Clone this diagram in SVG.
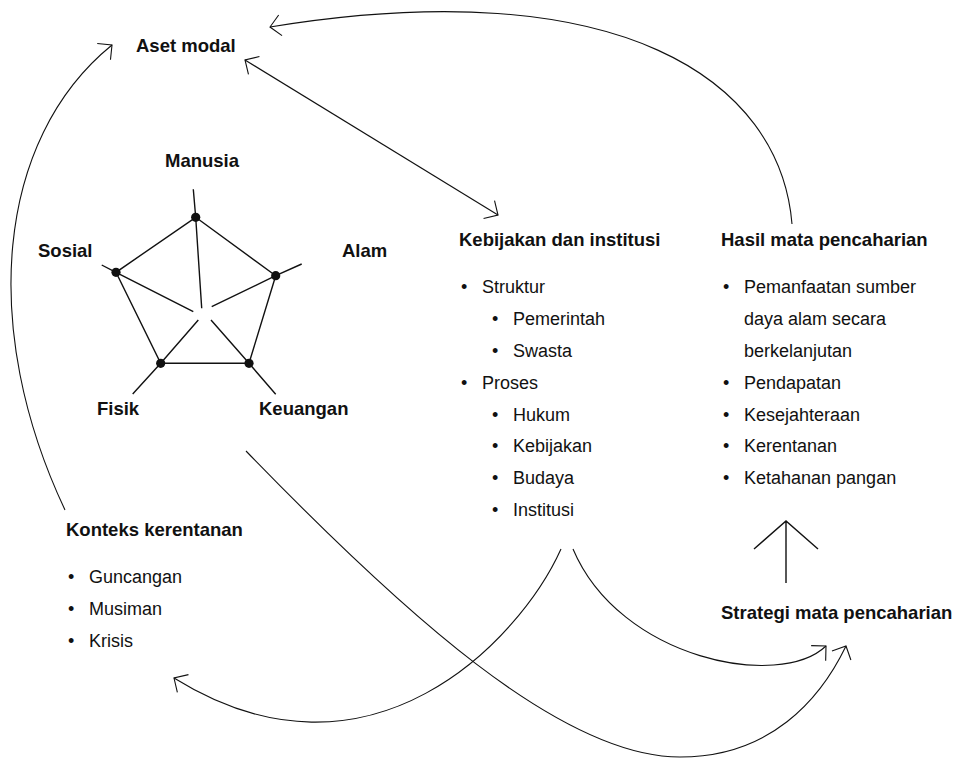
<svg xmlns="http://www.w3.org/2000/svg" width="966" height="758" viewBox="0 0 966 758">
<style>
.h{font-family:"Liberation Sans",Arial,sans-serif;font-weight:bold;font-size:18.5px;fill:#111}
.t{font-family:"Liberation Sans",Arial,sans-serif;font-size:18px;fill:#111}
.c{fill:none;stroke:#111;stroke-width:1.1}
.p{fill:none;stroke:#111;stroke-width:1.4}
.d{fill:#111}
</style>
<defs>
<marker id="arr" viewBox="-12 -12 14 24" refX="0" refY="0" markerWidth="14" markerHeight="24" markerUnits="userSpaceOnUse" orient="auto-start-reverse">
<path d="M-10.5,-10.5 L0,0 L-10.5,10.5" fill="none" stroke="#111" stroke-width="1.1"/>
</marker>
</defs>
<rect width="966" height="758" fill="#fff"/>

<g id="connectors">
<path class="c" d="M792,224 C780,80 620,-30 270,27" marker-end="url(#arr)"/>
<path class="c" d="M65,510 C-20,330 -5,140 112,45" marker-end="url(#arr)"/>
<path class="c" d="M245,60 L498,215" marker-start="url(#arr)" marker-end="url(#arr)"/>
<path class="c" d="M561,549 C520,640 370,800 174,678" marker-end="url(#arr)"/>
<path class="c" d="M573,549 C620,660 780,690 826,646" marker-end="url(#arr)"/>
<path class="c" d="M246,451 C400,610 560,757 680,757 C770,757 820,700 846,646" marker-end="url(#arr)"/>
<path class="p" d="M786,583 V521 M754,549 L786,521 L818,549"/>
</g>

<g id="aset-modal">
<text class="h" x="136" y="52">Aset modal</text>
<g id="pentagon">
<path class="p" d="M195.7,217.3 L275.7,275.7 L249,363.3 L160.7,363.3 L116,272.3 Z"/>
<path class="p" d="M195.7,217.3 L193.3,189.3 M275.7,275.7 L301.7,264 M249,363.3 L275.7,394.3 M160.7,363.3 L132.7,394 M116,272.3 L101.7,265"/>
<path class="p" d="M195.7,217.3 L201.7,308.3 M275.7,275.7 L211.7,306.7 M249,363.3 L211,320 M160.7,363.3 L198.3,320 M116,272.3 L193.3,311.7"/>
<circle class="d" cx="195.7" cy="217.3" r="4.6"/>
<circle class="d" cx="275.7" cy="275.7" r="4.6"/>
<circle class="d" cx="249" cy="363.3" r="4.6"/>
<circle class="d" cx="160.7" cy="363.3" r="4.6"/>
<circle class="d" cx="116" cy="272.3" r="4.6"/>
<text class="h" x="165" y="167">Manusia</text>
<text class="h" x="38" y="257">Sosial</text>
<text class="h" x="342" y="257">Alam</text>
<text class="h" x="97" y="415">Fisik</text>
<text class="h" x="259" y="415">Keuangan</text>
</g>
</g>

<g id="kebijakan">
<text class="h" x="459" y="246">Kebijakan dan institusi</text>
<text class="t" x="461" y="293">•</text><text class="t" x="482" y="293">Struktur</text>
<text class="t" x="492" y="325">•</text><text class="t" x="513" y="325">Pemerintah</text>
<text class="t" x="492" y="357">•</text><text class="t" x="513" y="357">Swasta</text>
<text class="t" x="461" y="388.5">•</text><text class="t" x="482" y="388.5">Proses</text>
<text class="t" x="492" y="420.5">•</text><text class="t" x="513" y="420.5">Hukum</text>
<text class="t" x="492" y="452">•</text><text class="t" x="513" y="452">Kebijakan</text>
<text class="t" x="492" y="484">•</text><text class="t" x="513" y="484">Budaya</text>
<text class="t" x="492" y="516">•</text><text class="t" x="513" y="516">Institusi</text>
</g>

<g id="hasil">
<text class="h" x="721" y="246">Hasil mata pencaharian</text>
<text class="t" x="723" y="293">•</text><text class="t" x="744" y="293">Pemanfaatan sumber</text>
<text class="t" x="744" y="325">daya alam secara</text>
<text class="t" x="744" y="357">berkelanjutan</text>
<text class="t" x="723" y="388.5">•</text><text class="t" x="744" y="388.5">Pendapatan</text>
<text class="t" x="723" y="420.5">•</text><text class="t" x="744" y="420.5">Kesejahteraan</text>
<text class="t" x="723" y="452">•</text><text class="t" x="744" y="452">Kerentanan</text>
<text class="t" x="723" y="484">•</text><text class="t" x="744" y="484">Ketahanan pangan</text>
</g>

<g id="strategi">
<text class="h" x="721" y="619">Strategi mata pencaharian</text>
</g>

<g id="konteks">
<text class="h" x="66" y="536">Konteks kerentanan</text>
<text class="t" x="68" y="583">•</text><text class="t" x="89" y="583">Guncangan</text>
<text class="t" x="68" y="615">•</text><text class="t" x="89" y="615">Musiman</text>
<text class="t" x="68" y="647">•</text><text class="t" x="89" y="647">Krisis</text>
</g>
</svg>
